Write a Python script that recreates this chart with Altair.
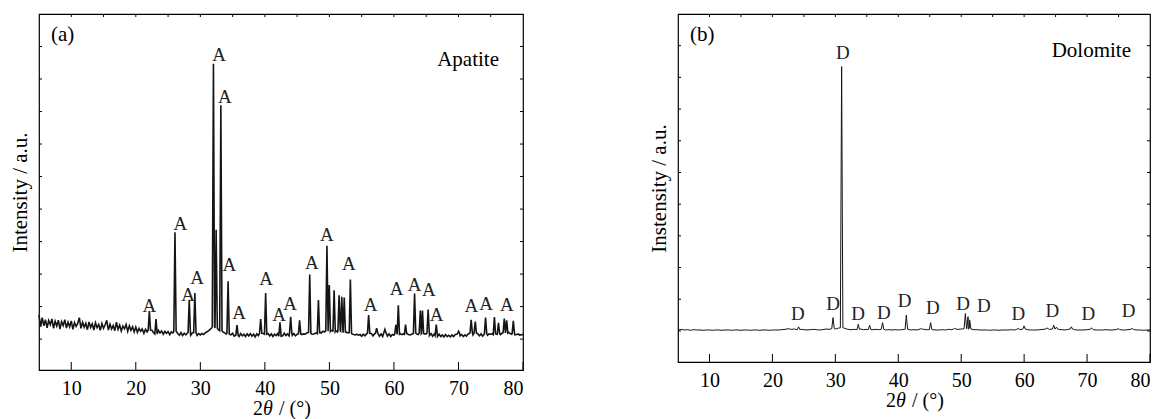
import altair as alt
import pandas as pd

SERIF = "Liberation Serif"

# ---------------- data: panel (a) Apatite ----------------
x_ticks = [10, 20, 30, 40, 50, 60, 70, 80]
top_ticks = [10, 15, 20, 25, 30, 35, 40, 45, 50, 55, 60, 65, 70, 75]
y_ticks = [0, 1, 2, 3, 4, 5, 6, 7, 8, 9]

# background of pattern (a), hundredths of a unit, every 0.25 deg from 5 to 80
bg_a_start, bg_a_step = 5.0, 0.25
bg_a = [
    74, 38, 66, 41, 60, 35, 57, 44, 62, 33, 55, 40, 58, 31, 54, 42, 60, 34, 52, 38,
    56, 30, 51, 39, 48, 66, 33, 52, 37, 49, 29, 53, 36, 47, 28, 50, 35, 45, 27, 48,
    33, 44, 58, 28, 46, 31, 42, 26, 52, 30, 43, 25, 40, 32, 45, 24, 41, 27, 38, 22,
    37, 21, 33, 24, 31, 18, 30, 22, 28, 17, 27, 20, 26, 16, 27, 19, 25, 15, 24, 18,
    23, 14, 22, 19, 24, 22, 17, 12, 20, 11, 18, 13, 19, 21, 12, 19, 17, 20, 11, 17,
    13, 17, 14, 19, 22, 25, 30, 34, 38, 36, 34, 30, 30, 26, 22, 19, 16, 18, 15, 13,
    18, 9, 16, 12, 8, 17, 10, 15, 8, 16, 10, 17, 9, 15, 7, 16, 11, 18, 10, 17,
    15, 9, 17, 10, 16, 8, 15, 11, 17, 9, 16, 10, 18, 11, 16, 10, 18, 11, 17, 10,
    15, 13, 16, 14, 16, 15, 19, 21, 18, 16, 15, 17, 19, 17, 22, 19, 24, 22, 26, 28,
    24, 27, 25, 23, 26, 22, 25, 21, 24, 20, 23, 19, 21, 18, 16, 14, 13, 15, 12, 14,
    9, 15, 10, 16, 18, 11, 17, 10, 16, 18, 11, 9, 16, 8, 19, 10, 9, 16, 8, 14,
    12, 16, 19, 15, 17, 14, 16, 15, 18, 14, 13, 15, 17, 19, 16, 14, 18, 20, 17, 16,
    16, 19, 11, 17, 9, 16, 11, 8, 15, 8, 13, 7, 14, 8, 12, 7, 13, 8, 14, 15,
    17, 10, 14, 8, 13, 9, 16, 18, 20, 13, 19, 12, 16, 10, 16, 9, 15, 17, 12, 16,
    15, 17, 14, 16, 15, 17, 14, 18, 20, 22, 19, 21, 17, 15, 18, 13, 14, 16, 12, 14,
    13,
]
peaks_a_x = [22.1, 23.13, 26.07, 28.28, 29.15, 32.03, 32.45, 33.18, 34.3, 35.68,
             39.35, 40.12, 42.34, 44.0, 45.38, 46.95, 48.3, 49.62, 49.98, 50.73,
             51.5, 51.92, 52.3, 53.25, 56.08, 57.32, 58.6, 60.3, 60.68, 61.8,
             63.2, 64.09, 64.42, 65.3, 66.56, 70.02, 71.97, 72.6, 74.2, 75.57,
             76.2, 77.1, 77.47, 78.5]
peaks_a_h = [0.86, 0.62, 3.29, 1.21, 1.42, 8.47, 3.36, 7.19, 1.78, 0.43,
             0.62, 1.42, 0.52, 0.69, 0.58, 1.99, 1.2, 2.87, 1.66, 1.5,
             1.35, 1.3, 1.28, 1.83, 0.74, 0.34, 0.3, 0.44, 1.04, 0.45,
             1.4, 0.88, 0.88, 0.91, 0.45, 0.24, 0.59, 0.54, 0.66, 0.68,
             0.5, 0.63, 0.58, 0.56]
lab_a_x = [22.1, 26.9, 28.1, 29.5, 32.9, 33.8, 34.5, 36.0, 40.2, 42.2, 43.9,
           47.3, 49.6, 53.0, 56.4, 60.4, 63.2, 65.4, 66.6, 72.0, 74.3, 77.5]
lab_a_y = [1.02, 3.54, 1.35, 1.88, 8.74, 7.45, 2.28, 0.8, 1.85, 0.74, 1.08,
           2.34, 3.2, 2.31, 1.05, 1.54, 1.66, 1.51, 0.74, 1.02, 1.08, 1.05]

# ---------------- data: panel (b) Dolomite ----------------
bg_b_start, bg_b_step = 5.0, 0.5
bg_b = [
    3, 5, 3, 4, 2, 4, 3, 3, 2, 3,
    3, 2, 3, 3, 2, 3, 3, 2, 3, 3,
    2, 3, 3, 2, 3, 3, 2, 3, 3, 2,
    3, 3, 3, 4, 5, 7, 5, 6, 4, 5,
    4, 3, 4, 5, 4, 3, 4, 6, 5, 7,
    6, 9, 10, 8, 5, 4, 5, 4, 6, 4,
    5, 4, 4, 5, 4, 5, 3, 4, 3, 4,
    3, 4, 5, 5, 3, 4, 3, 6, 5, 4,
    4, 4, 3, 3, 4, 3, 5, 4, 6, 5,
    6, 7, 8, 6, 4, 4, 3, 3, 3, 2,
    3, 3, 2, 3, 3, 3, 4, 3, 5, 4,
    6, 4, 3, 3, 3, 4, 5, 6, 5, 6,
    6, 5, 4, 3, 5, 6, 4, 3, 3, 3,
    4, 5, 4, 3, 3, 3, 4, 3, 3, 4,
    5, 3, 3, 4, 5, 4, 3, 3, 2, 3,
    3,
]
peaks_b_x = [24.16, 29.63, 31.0, 33.65, 35.45, 37.5, 41.28, 43.67, 45.14, 48.96,
             50.66, 51.09, 51.34, 59.04, 59.99, 63.65, 64.7, 65.13, 67.5, 70.7,
             74.94, 77.16]
peaks_b_h = [0.13, 0.42, 8.34, 0.21, 0.18, 0.26, 0.5, 0.07, 0.26, 0.08,
             0.55, 0.45, 0.35, 0.08, 0.16, 0.1, 0.18, 0.12, 0.13, 0.1,
             0.07, 0.08]
lab_b_x = [24.06, 29.63, 31.2, 33.6, 37.7, 41.0, 45.5, 50.3, 53.6, 59.1, 64.5, 70.2, 76.6]
lab_b_y = [0.53, 0.84, 8.78, 0.53, 0.58, 0.95, 0.73, 0.84, 0.79, 0.53, 0.63, 0.55, 0.63]


def build_profile(start, step, bg, px, ph, hw):
    gx = [start + step * i for i in range(len(bg))]
    gy = [v / 100.0 for v in bg]
    rows = [(x, y) for x, y in zip(gx, gy) if all(abs(x - p) > hw for p in px)]
    for p, h in zip(px, ph):
        i = int(round((p - start) / step))
        b = gy[i]
        rows += [(p - hw, b), (p, h), (p + hw, b)]
    rows.sort()
    return pd.DataFrame(rows, columns=["x", "y"])


def panel(df, lab_x, lab_y, letter, tag, W, H, ydom, ytitle, sw, lab_char, name_dx, name_y):
    xs = alt.Scale(domain=[5, 80], nice=False, zero=False)
    ys = alt.Scale(domain=ydom, nice=False, zero=False)
    xaxis = alt.Axis(values=x_ticks, ticks=False, domain=False, grid=False,
                     title=None, labelPadding=8, format="d")
    yaxis = alt.Axis(labels=False, ticks=False, domain=False, grid=False,
                     title=ytitle, titlePadding=9)
    X = lambda: alt.X("x:Q", scale=xs, axis=xaxis)
    Y = lambda: alt.Y("y:Q", scale=ys, axis=yaxis)

    line = alt.Chart(df).mark_line(color="#151515", strokeWidth=sw).encode(x=X(), y=Y())
    labs = alt.Chart(pd.DataFrame({"x": lab_x, "y": lab_y, "t": [lab_char] * len(lab_x)})).mark_text(
        font=SERIF, fontSize=19, color="#222", baseline="middle", align="center"
    ).encode(x=X(), y=Y(), text="t:N")
    bt = alt.Chart(pd.DataFrame({"x": x_ticks})).mark_rule(color="black", strokeWidth=1).encode(
        x=X(), y=alt.value(H), y2=alt.value(H - 8))
    tt = alt.Chart(pd.DataFrame({"x": top_ticks})).mark_rule(color="black", strokeWidth=1).encode(
        x=X(), y=alt.value(0), y2=alt.value(3))
    lt = alt.Chart(pd.DataFrame({"y": y_ticks})).mark_rule(color="black", strokeWidth=1).encode(
        y=Y(), x=alt.value(0), x2=alt.value(3))
    rt = alt.Chart(pd.DataFrame({"y": y_ticks})).mark_rule(color="black", strokeWidth=1).encode(
        y=Y(), x=alt.value(W), x2=alt.value(W - 3))
    corner = alt.Chart(pd.DataFrame({"t": [letter]})).mark_text(
        font=SERIF, fontSize=21, color="black", align="left", baseline="middle"
    ).encode(x=alt.value(12), y=alt.value(21), text="t:N")
    name = alt.Chart(pd.DataFrame({"t": [tag]})).mark_text(
        font=SERIF, fontSize=21, color="black", align="right", baseline="middle"
    ).encode(x=alt.value(W - name_dx), y=alt.value(name_y), text="t:N")
    L = W / 2 - 28
    ty = H + 45
    t1 = alt.Chart(pd.DataFrame({"t": ["2"]})).mark_text(
        font=SERIF, fontSize=20, color="black", align="left", baseline="alphabetic"
    ).encode(x=alt.value(L), y=alt.value(ty), text="t:N")
    t2 = alt.Chart(pd.DataFrame({"t": ["θ"]})).mark_text(
        font=SERIF, fontSize=20, fontStyle="italic", color="black", align="left", baseline="alphabetic"
    ).encode(x=alt.value(L + 10), y=alt.value(ty), text="t:N")
    t3 = alt.Chart(pd.DataFrame({"t": ["/ (°)"]})).mark_text(
        font=SERIF, fontSize=20, color="black", align="left", baseline="alphabetic"
    ).encode(x=alt.value(L + 26), y=alt.value(ty), text="t:N")
    return alt.layer(line, labs, bt, tt, lt, rt, corner, name, t1, t2, t3).properties(width=W, height=H)


df_a = build_profile(bg_a_start, bg_a_step, bg_a, peaks_a_x, peaks_a_h, 0.18)
df_b = build_profile(bg_b_start, bg_b_step, bg_b, peaks_b_x, peaks_b_h, 0.2)

left = panel(df_a, lab_a_x, lab_a_y, "(a)", "Apatite", 484, 356, [-0.95, 10],
             "Intensity / a.u.", 1.6, "A", 24, 46)
right = panel(df_b, lab_b_x, lab_b_y, "(b)", "Dolomite", 472, 348, [-0.98, 10],
              "Instensity / a.u.", 1.0, "D", 19, 37)

chart = alt.hconcat(left, right, spacing=155, bounds="flush").configure(
    padding={"left": 8, "top": 12, "right": 0, "bottom": 0},
    background="white",
).configure_view(stroke="black", strokeWidth=1.2).configure_axis(
    labelFont=SERIF, labelFontSize=20, labelColor="black",
    titleFont=SERIF, titleFontSize=21, titleFontWeight="normal", titleColor="black",
)

chart.save("out.html", embed_options={"renderer": "svg", "actions": False})
